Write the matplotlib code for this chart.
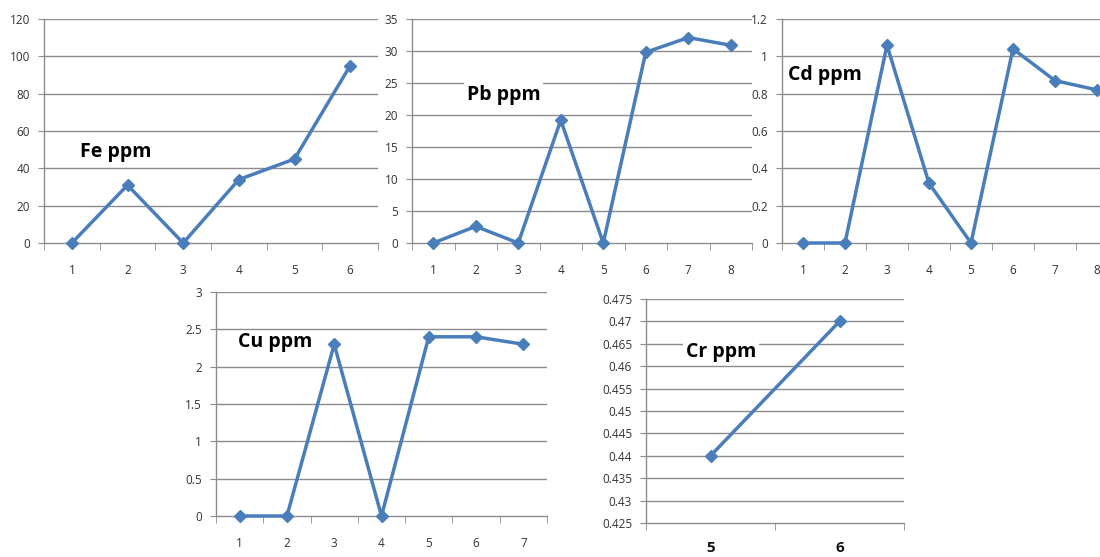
import matplotlib
matplotlib.use("Agg")
import matplotlib.pyplot as plt
import numpy as np

fe_vals = [0, 31, 0, 34, 45, 95]
pb_vals = [0, 2.6, 0, 19.2, 0, 29.8, 32.1, 30.9]
cd_vals = [0, 0, 1.06, 0.32, 0, 1.04, 0.87, 0.82]
cu_vals = [0, 0, 2.3, 0, 2.4, 2.4, 2.3]
cr_vals = [0.44, 0.47]

fe_cats = ["1", "2", "3", "4", "5", "6"]
pb_cats = ["1", "2", "3", "4", "5", "6", "7", "8"]
cd_cats = ["1", "2", "3", "4", "5", "6", "7", "8"]
cu_cats = ["1", "2", "3", "4", "5", "6", "7"]
cr_cats = ["5", "6"]

fe_yticks = [0, 20, 40, 60, 80, 100, 120]
pb_yticks = [0, 5, 10, 15, 20, 25, 30, 35]
cd_yticks = [0, 0.2, 0.4, 0.6, 0.8, 1, 1.2]
cu_yticks = [0, 0.5, 1, 1.5, 2, 2.5, 3]
cr_yticks = [0.425, 0.43, 0.435, 0.44, 0.445, 0.45, 0.455, 0.46, 0.465, 0.47, 0.475]

plt.rcParams['font.family'] = ['Open Sans', 'DejaVu Sans']

W, H = 1100, 557
fig = plt.figure(figsize=(W / 100, H / 100), dpi=100)

LINE = "#4A7EBB"
GRID = "#8C8C8C"


def add_panel(left, right, top, bottom, cats, vals, yticks, ylabels, label, lx, ly,
              xfont=None, bpad=2):
    ax = fig.add_axes([left / W, (H - bottom) / H, (right - left) / W, (bottom - top) / H])
    n = len(cats)
    x = np.arange(n)
    ax.set_xlim(-0.5, n - 0.5)
    ax.set_ylim(yticks[0], yticks[-1])
    ax.set_yticks(yticks)
    ax.set_yticklabels(ylabels)
    for y in yticks[1:]:
        ax.axhline(y, color=GRID, lw=1, zorder=1)
    ax.plot(x, vals, color=LINE, lw=2.5, marker="D", ms=6.5, zorder=3, clip_on=False)
    ax.set_xticks(x)
    if xfont is None:
        ax.set_xticklabels(cats, fontsize=8.5, color="#333333")
        ax.tick_params(axis="x", which="major", length=0, pad=15)
    else:
        ax.set_xticklabels(cats, fontsize=11, fontweight="bold", color="#111111")
        ax.tick_params(axis="x", which="major", length=0, pad=13)
    ax.set_xticks(np.arange(n + 1) - 0.5, minor=True)
    ax.tick_params(axis="x", which="minor", length=5, color=GRID, direction="out")
    ax.tick_params(axis="y", length=4, color=GRID, labelsize=8.5, labelcolor="#333333", pad=6)
    for s in ["top", "right"]:
        ax.spines[s].set_visible(False)
    for s in ["left", "bottom"]:
        ax.spines[s].set_color(GRID)
        ax.spines[s].set_linewidth(1)
    ax.spines["bottom"].set_zorder(2)
    ax.text(lx, ly, label, transform=fig.transFigure, fontsize=14, fontweight="bold",
            ha="left", va="center", color="black", zorder=5,
            bbox=dict(facecolor="white", edgecolor="none", pad=bpad))
    ax.set_facecolor("none")
    return ax


def fmt(vals):
    return ["%g" % v for v in vals]


add_panel(44, 378, 19, 243, fe_cats, fe_vals, fe_yticks, fmt(fe_yticks),
          "Fe ppm", 80 / W, 1 - 152 / H)
add_panel(412, 752, 19, 243, pb_cats, pb_vals, pb_yticks, fmt(pb_yticks),
          "Pb ppm", 467 / W, 1 - 95 / H)
add_panel(782, 1118, 19, 243, cd_cats, cd_vals, cd_yticks, fmt(cd_yticks),
          "Cd ppm", 788 / W, 1 - 75 / H)
add_panel(216, 547, 292, 516, cu_cats, cu_vals, cu_yticks, fmt(cu_yticks),
          "Cu ppm", 238 / W, 1 - 342 / H, bpad=0)
add_panel(646, 904, 299, 523, cr_cats, cr_vals, cr_yticks, fmt(cr_yticks),
          "Cr ppm", 686 / W, 1 - 352 / H, xfont=True)

fig.savefig("out.png", dpi=100)
